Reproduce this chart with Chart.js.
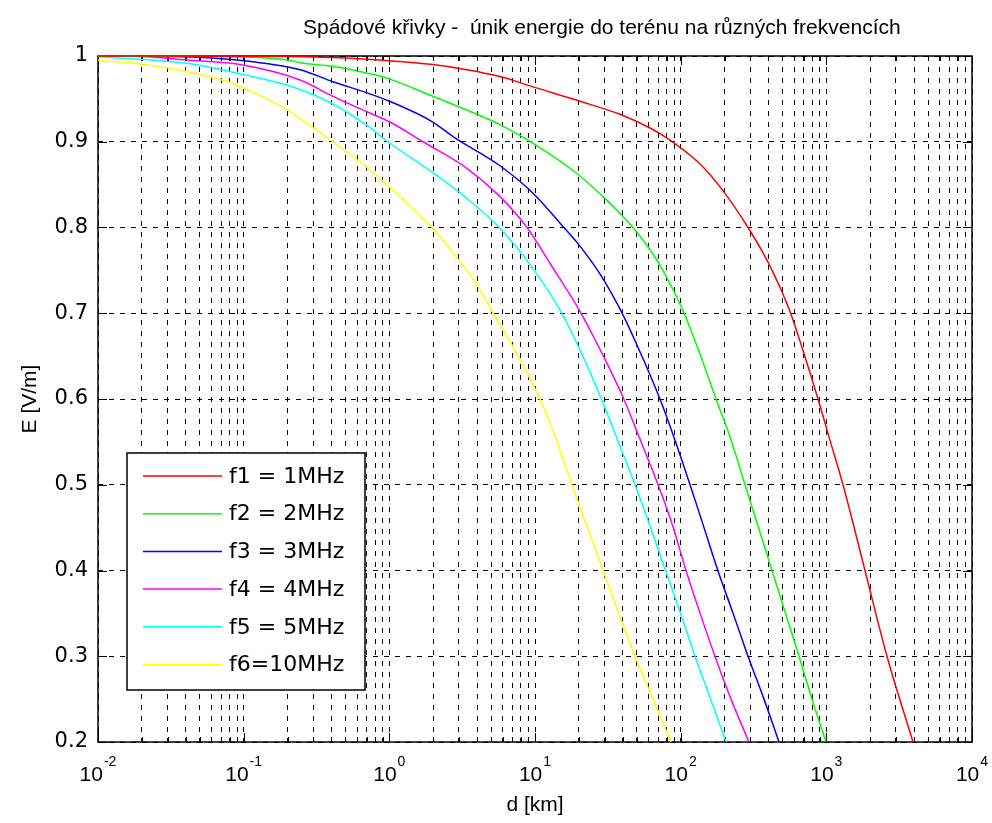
<!DOCTYPE html>
<html>
<head>
<meta charset="utf-8">
<title>Spádové křivky</title>
<script src="https://cdn.jsdelivr.net/npm/chart.js@4.4.1/dist/chart.umd.min.js"></script>
<style>
  html, body { margin: 0; padding: 0; background: #fff; }
  #wrap { width: 992px; height: 823px; }
</style>
</head>
<body>
<div id="wrap"><canvas id="chart" width="992" height="823"></canvas></div>
<script>
const titleText = 'Spádové křivky -  únik energie do terénu na různých frekvencích';
const xAxisTitle = 'd [km]';
const yAxisTitle = 'E [V/m]';

const seriesLabels = ['f1 = 1MHz', 'f2 = 2MHz', 'f3 = 3MHz', 'f4 = 4MHz', 'f5 = 5MHz', 'f6=10MHz'];
const seriesColors = ['#ff0000', '#00ff00', '#0000ff', '#ff00ff', '#00ffff', '#ffff00'];

// distance [km] and field strength [V/m]
const f1Dist = [0.01, 0.208, 0.458, 0.903, 1.99, 3.41, 5.75, 9.69, 19.7, 38.3, 61.6, 84.5, 136, 195, 290, 391, 481, 563, 681, 877, 1059, 1301, 1842, 2608, 3935];
const f1Field = [1.0, 0.9995, 0.998, 0.995, 0.990, 0.984, 0.976, 0.964, 0.948, 0.932, 0.916, 0.902, 0.874, 0.843, 0.800, 0.762, 0.730, 0.702, 0.660, 0.600, 0.552, 0.500, 0.400, 0.300, 0.200];

const f2Dist = [0.01, 0.0616, 0.208, 0.244, 0.410, 0.702, 1.01, 1.99, 3.41, 5.75, 9.54, 19.4, 29.3, 39.6, 48.6, 61.6, 75.6, 103.8, 136, 174.8, 218, 276.4, 423.6, 649.2, 797, 995];
const f2Field = [1.0, 0.9995, 0.995, 0.992, 0.988, 0.980, 0.973, 0.953, 0.937, 0.920, 0.899, 0.863, 0.836, 0.814, 0.797, 0.774, 0.750, 0.703, 0.652, 0.600, 0.556, 0.500, 0.400, 0.300, 0.250, 0.200];

const f3Dist = [0.01, 0.0327, 0.0944, 0.244, 0.410, 0.702, 1.01, 1.99, 2.735, 5.75, 9.69, 15.6, 20.4, 27.9, 38.3, 50.1, 72.1, 91.4, 116, 144.6, 180, 229, 290, 373.3, 473];
const f3Field = [1.0, 0.9995, 0.995, 0.984, 0.970, 0.957, 0.947, 0.923, 0.906, 0.872, 0.840, 0.801, 0.778, 0.746, 0.705, 0.663, 0.600, 0.552, 0.500, 0.450, 0.400, 0.350, 0.300, 0.250, 0.200];

const f4Dist = [0.01, 0.0194, 0.0428, 0.0944, 0.244, 0.410, 0.702, 1.01, 1.702, 3.41, 5.75, 8.81, 12.7, 20.4, 27.9, 40.2, 52.6, 70.0, 88.6, 108.8, 136, 172, 221.6, 294];
const f4Field = [1.0, 0.9995, 0.995, 0.990, 0.972, 0.953, 0.935, 0.923, 0.900, 0.869, 0.836, 0.800, 0.758, 0.702, 0.658, 0.602, 0.553, 0.500, 0.451, 0.400, 0.350, 0.300, 0.250, 0.200];

const f5Dist = [0.01, 0.021, 0.0463, 0.102, 0.225, 0.410, 0.702, 0.979, 1.99, 3.41, 5.75, 9.69, 14.9, 20.4, 28.4, 38.3, 48.6, 61.6, 78.0, 98.9, 125.4, 159, 205];
const f5Field = [0.999, 0.996, 0.990, 0.978, 0.963, 0.944, 0.919, 0.900, 0.864, 0.834, 0.799, 0.752, 0.703, 0.657, 0.601, 0.545, 0.500, 0.452, 0.402, 0.352, 0.300, 0.252, 0.200];

const f6Dist = [0.01, 0.021, 0.0463, 0.0781, 0.102, 0.2015, 0.244, 0.410, 0.702, 0.964, 1.387, 1.99, 2.96, 4.00, 5.15, 7.06, 10.8, 13.3, 17.9, 29.3, 48.6, 64.6, 85.8];
const f6Field = [0.995, 0.990, 0.980, 0.970, 0.962, 0.937, 0.927, 0.900, 0.870, 0.850, 0.825, 0.799, 0.763, 0.733, 0.700, 0.661, 0.600, 0.563, 0.500, 0.400, 0.300, 0.250, 0.200];

const xDecades = [0.01, 0.1, 1, 10, 100, 1000, 10000];
const xDecadeExponents = ['-2', '-1', '0', '1', '2', '3', '4'];
const xMinorSteps = [2, 3, 4, 5, 6, 7, 8, 9];
const yTickValues = [0.2, 0.3, 0.4, 0.5, 0.6, 0.7, 0.8, 0.9, 1];
const yTickLabels = ['0.2', '0.3', '0.4', '0.5', '0.6', '0.7', '0.8', '0.9', '1'];

const FONT = '"Liberation Sans", Arial, sans-serif';
const WIDE_FONT = '"DejaVu Sans", Verdana, sans-serif';

const allDist = [f1Dist, f2Dist, f3Dist, f4Dist, f5Dist, f6Dist];
const allField = [f1Field, f2Field, f3Field, f4Field, f5Field, f6Field];

const datasets = seriesLabels.map((label, i) => ({
    label: label,
    data: allDist[i].map((d, j) => ({ x: d, y: allField[i][j] })),
    borderColor: seriesColors[i],
    borderWidth: 1.5,
    pointRadius: 0,
    fill: false,
    cubicInterpolationMode: 'monotone',
    clip: false
}));

// ticks of the log axis: every decade plus 2..9 inside it
const xTicks = [];
xDecades.forEach((dec, i) => {
    xTicks.push({ value: dec, major: true, exp: xDecadeExponents[i] });
    if (i < xDecades.length - 1) {
        xMinorSteps.forEach(m => xTicks.push({ value: m * dec, major: false }));
    }
});

const matlabFrame = {
    id: 'matlabFrame',
    beforeDatasetsDraw(chart) {
        const { ctx, chartArea: a, scales: { x, y } } = chart;
        ctx.save();
        ctx.setLineDash([]);
        ctx.strokeStyle = '#000';
        ctx.lineWidth = 1;
        ctx.beginPath();
        x.ticks.forEach(t => {
            const px = Math.round(x.getPixelForValue(t.value)) + 0.5;
            const len = t.major ? 9 : 5;
            ctx.moveTo(px, a.bottom);
            ctx.lineTo(px, a.bottom - len);
            ctx.moveTo(px, a.top);
            ctx.lineTo(px, a.top + len);
        });
        y.ticks.forEach(t => {
            const py = Math.round(y.getPixelForValue(t.value)) + 0.5;
            ctx.moveTo(a.left, py);
            ctx.lineTo(a.left + 9, py);
            ctx.moveTo(a.right, py);
            ctx.lineTo(a.right - 9, py);
        });
        ctx.stroke();
        ctx.lineWidth = 1.5;
        ctx.strokeRect(a.left, a.top, a.right - a.left, a.bottom - a.top);
        ctx.restore();
    },
    afterDraw(chart) {
        const { ctx, chartArea: a, scales: { x, y } } = chart;
        ctx.save();
        ctx.fillStyle = '#000';

        // title
        ctx.font = '21px ' + FONT;
        ctx.textAlign = 'left';
        ctx.textBaseline = 'middle';
        ctx.fillText(titleText, 303, 28);

        // y tick labels
        ctx.font = '21px ' + WIDE_FONT;
        ctx.textAlign = 'right';
        y.ticks.forEach((t, i) => {
            ctx.fillText(yTickLabels[i], a.left - 10, y.getPixelForValue(t.value));
        });

        // x tick labels 10^n
        x.ticks.filter(t => t.major).forEach(t => {
            const px = x.getPixelForValue(t.value);
            ctx.font = '21px ' + FONT;
            const wb = ctx.measureText('10').width;
            ctx.font = '14px ' + FONT;
            const we = ctx.measureText(t.exp).width;
            const left = px - (wb + we + 1) / 2;
            ctx.textAlign = 'left';
            ctx.font = '21px ' + FONT;
            ctx.fillText('10', left, a.bottom + 33);
            ctx.font = '14px ' + FONT;
            ctx.fillText(t.exp, left + wb + 1, a.bottom + 20);
        });

        // axis titles
        ctx.font = '21px ' + FONT;
        ctx.textAlign = 'center';
        ctx.fillText(xAxisTitle, (a.left + a.right) / 2, 805);
        ctx.save();
        ctx.translate(30, (a.top + a.bottom) / 2);
        ctx.rotate(-Math.PI / 2);
        ctx.fillText(yAxisTitle, 0, 0);
        ctx.restore();

        // legend box
        const lx = 127, ly = 453, lw = 238, lh = 237;
        ctx.fillStyle = '#fff';
        ctx.fillRect(lx, ly, lw, lh);
        ctx.strokeStyle = '#000';
        ctx.lineWidth = 1.5;
        ctx.strokeRect(lx, ly, lw, lh);
        chart.data.datasets.forEach((ds, i) => {
            const ry = ly + 23 + i * 37.7;
            ctx.strokeStyle = ds.borderColor;
            ctx.lineWidth = 1.5;
            ctx.beginPath();
            ctx.moveTo(lx + 16, ry);
            ctx.lineTo(lx + 95, ry);
            ctx.stroke();
            ctx.fillStyle = '#000';
            ctx.font = '22px ' + WIDE_FONT;
            ctx.textAlign = 'left';
            ctx.textBaseline = 'middle';
            ctx.fillText(ds.label, lx + 102, ry + 1);
        });
        ctx.restore();
    }
};

new Chart(document.getElementById('chart').getContext('2d'), {
    type: 'line',
    data: { datasets: datasets },
    options: {
        responsive: false,
        animation: false,
        devicePixelRatio: 1,
        layout: { padding: { left: 98, top: 56, right: 20, bottom: 81 } },
        plugins: {
            legend: { display: false },
            title: { display: false },
            tooltip: { enabled: false }
        },
        scales: {
            x: {
                type: 'logarithmic',
                min: 0.01,
                max: 10000,
                bounds: 'data',
                afterBuildTicks: scale => { scale.ticks = xTicks.map(t => ({ ...t })); },
                afterFit: scale => { scale.height = 0; },
                ticks: { display: false },
                grid: { color: '#000', lineWidth: 1, drawTicks: false },
                border: { display: false, dash: [5, 6] }
            },
            y: {
                type: 'linear',
                min: 0.2,
                max: 1,
                afterBuildTicks: scale => { scale.ticks = yTickValues.map(v => ({ value: v })); },
                afterFit: scale => { scale.width = 0; },
                ticks: { display: false },
                grid: { color: '#000', lineWidth: 1, drawTicks: false },
                border: { display: false, dash: [5, 6] }
            }
        }
    },
    plugins: [matlabFrame]
});
</script>
</body>
</html>
